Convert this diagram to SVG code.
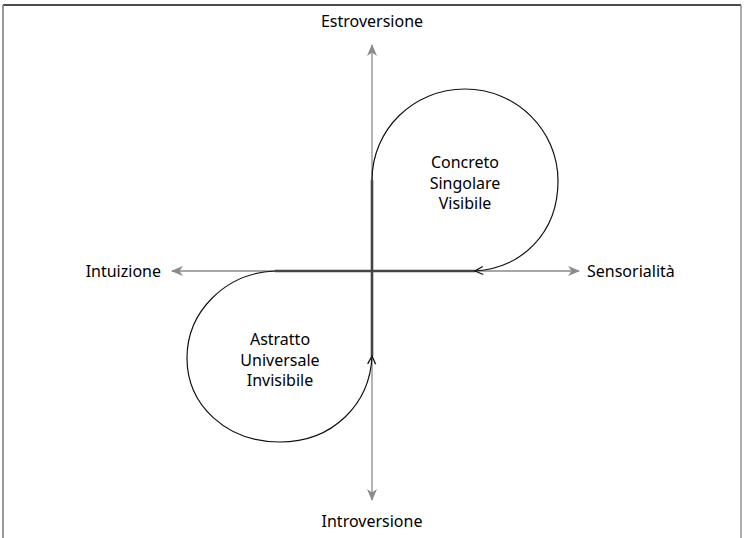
<svg xmlns="http://www.w3.org/2000/svg" width="750" height="538" viewBox="0 0 750 538">
  <style>
    .lbl { font-family: "Noto Sans", "Open Sans", sans-serif; font-size: 16px; fill: #000; }
    .mid { text-anchor: middle; }
    .axis { stroke: #8a8a8a; stroke-width: 1.3; fill: none; }
    .bold { stroke: #444; stroke-width: 2.6; fill: none; }
    .loop { stroke: #111; stroke-width: 1.2; fill: none; }
  </style>
  <defs>
    <marker id="axisHead" viewBox="0 0 12 10" refX="11" refY="5" markerWidth="12" markerHeight="10" markerUnits="userSpaceOnUse" orient="auto">
      <path d="M0,0 L12,5 L0,10 L3.5,5 z" fill="#8a8a8a"/>
    </marker>
    <marker id="openHead" viewBox="0 0 10 10" refX="9" refY="5" markerWidth="10" markerHeight="10" markerUnits="userSpaceOnUse" orient="auto">
      <path d="M1,1 L9,5 L1,9" fill="none" stroke="#111" stroke-width="1.3"/>
    </marker>
  </defs>

  <rect width="750" height="538" fill="#fff"/>

  <!-- frame -->
  <g id="frame">
    <line x1="3" y1="5" x2="741" y2="5" stroke="#111" stroke-width="1.3"/>
    <line x1="3" y1="5" x2="3" y2="538" stroke="#777" stroke-width="1.5"/>
    <line x1="741" y1="5" x2="741" y2="538" stroke="#777" stroke-width="1.2"/>
  </g>

  <g id="connectors">
    <!-- axes -->
    <line class="axis" x1="372" y1="271" x2="372" y2="45" marker-end="url(#axisHead)"/>
    <line class="axis" x1="372" y1="271" x2="372" y2="500" marker-end="url(#axisHead)"/>
    <line class="axis" x1="372" y1="271" x2="172" y2="271" marker-end="url(#axisHead)"/>
    <line class="axis" x1="372" y1="271" x2="579" y2="271" marker-end="url(#axisHead)"/>
    <!-- emphasised axis segments -->
    <line class="bold" x1="372" y1="180" x2="372" y2="356"/>
    <line class="bold" x1="275" y1="271" x2="475" y2="271"/>
    <!-- loops -->
    <path class="loop" d="M372,180 C372,130 413,89 465,89 C516,89 558,130 558,181 C558,233 522,268 475,271" marker-end="url(#openHead)"/>
    <path class="loop" d="M275,271 C225,273 187,312 187,358 C187,405 226,442 280,442 C333,442 370,404 372,356" marker-end="url(#openHead)"/>
  </g>

  <g id="estroversione"><text class="lbl mid" x="372" y="27">Estroversione</text></g>
  <g id="introversione"><text class="lbl mid" x="372" y="527">Introversione</text></g>
  <g id="intuizione"><text class="lbl" x="161" y="277" text-anchor="end">Intuizione</text></g>
  <g id="sensorialita"><text class="lbl" x="587" y="277">Sensorialità</text></g>
  <g id="concreto">
    <text class="lbl mid" x="465" y="168">Concreto</text>
    <text class="lbl mid" x="465" y="189">Singolare</text>
    <text class="lbl mid" x="465" y="209">Visibile</text>
  </g>
  <g id="astratto">
    <text class="lbl mid" x="280" y="345">Astratto</text>
    <text class="lbl mid" x="280" y="366">Universale</text>
    <text class="lbl mid" x="280" y="386">Invisibile</text>
  </g>
</svg>
